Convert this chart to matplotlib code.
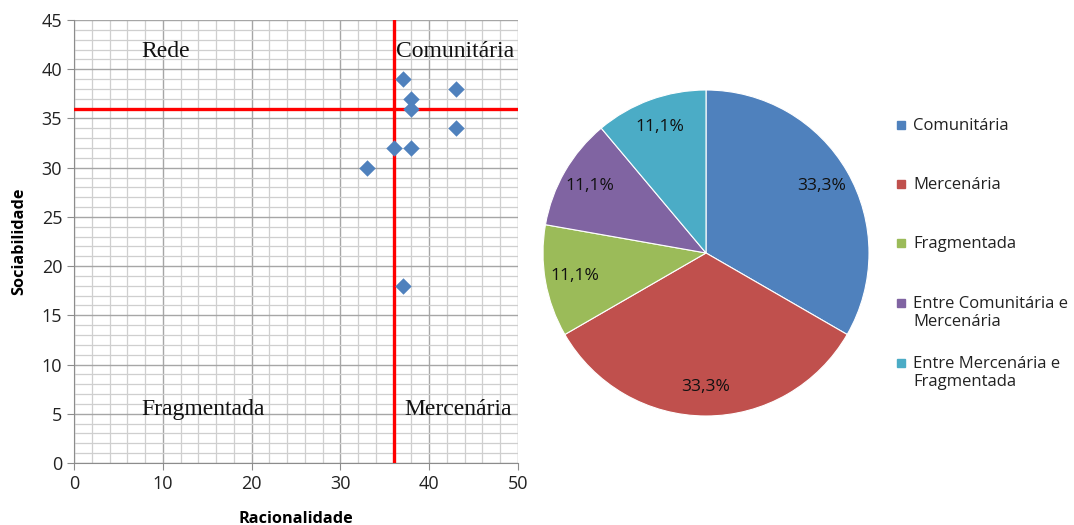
import numpy as np
import matplotlib.pyplot as plt
from matplotlib.patches import Rectangle

# Scatter data
racionalidade = [37, 43, 38, 38, 43, 36, 38, 33, 37]
sociabilidade = [39, 38, 37, 36, 34, 32, 32, 30, 18]
corte_x = 36
corte_y = 36
quadrantes = ["Rede", "Comunitária", "Fragmentada", "Mercenária"]
quad_pos = [(10.3, 41.8), (42.9, 41.8), (14.5, 5.4), (43.2, 5.4)]

# Pie data
categorias = ["Comunitária", "Mercenária", "Fragmentada",
              "Entre Comunitária e\nMercenária", "Entre Mercenária e\nFragmentada"]
contagens = [3, 3, 1, 1, 1]
cores = ["#4F81BD", "#C0504D", "#9BBB59", "#8064A2", "#4BACC6"]

W, H = 1074, 525
fig = plt.figure(figsize=(W / 100, H / 100), dpi=100)
sans = ["Open Sans", "DejaVu Sans"]

# --- scatter ---
ax = fig.add_axes([74 / W, 1 - 463 / H, 444 / W, 443 / H])
ax.set_xlim(0, 50)
ax.set_ylim(0, 45)
ax.set_xticks(np.arange(0, 51, 10))
ax.set_yticks(np.arange(0, 46, 5))
ax.set_xticks(np.arange(0, 51, 2), minor=True)
ax.set_yticks(np.arange(0, 46, 1), minor=True)
ax.grid(which="minor", color="#CFCFCF", lw=0.9)
ax.grid(which="major", color="#A6A6A6", lw=1.0)
ax.set_axisbelow(True)
for s in ["top", "right"]:
    ax.spines[s].set_visible(False)
for s in ["left", "bottom"]:
    ax.spines[s].set_color("#8C8C8C")
ax.tick_params(which="major", direction="out", length=5, color="#8C8C8C",
               labelsize=13, labelcolor="#222222")
ax.tick_params(which="minor", length=0)
for lab in ax.get_xticklabels() + ax.get_yticklabels():
    lab.set_family(sans)

ax.axvline(corte_x, color="#FF0000", lw=2.4, zorder=3)
ax.axhline(corte_y, color="#FF0000", lw=2.4, zorder=3)
ax.scatter(racionalidade, sociabilidade, marker="D", s=70, color="#4F81BD",
           zorder=4, linewidths=0)

for txt, (qx, qy) in zip(quadrantes, quad_pos):
    ax.text(qx, qy, txt, ha="center", va="center", fontsize=17,
            family="Liberation Serif", color="#111111", zorder=5)

ax.set_xlabel("Racionalidade", fontsize=11.7, fontweight="bold", family=sans,
              labelpad=13)
ax.set_ylabel("Sociabilidade", fontsize=11.7, fontweight="bold", family=sans,
              labelpad=10)

# --- pie ---
r = 163
pax = fig.add_axes([(706 - r) / W, 1 - (253 + r) / H, 2 * r / W, 2 * r / H])
wedges, _, autotexts = pax.pie(
    contagens, colors=cores, startangle=90, counterclock=False,
    autopct=lambda p: f"{p:.1f}%".replace(".", ","), pctdistance=0.82,
    wedgeprops=dict(edgecolor="white", linewidth=0.8),
    textprops=dict(fontsize=12.5, family=sans, color="#111111"))
pax.set_xlim(-1, 1)
pax.set_ylim(-1, 1)

# --- legend ---
leg_y = [125, 184, 243, 303, 363]
for cor, nome, y in zip(cores, categorias, leg_y):
    fig.patches.append(Rectangle((897 / W, 1 - (y + 4) / H), 8 / W, 8 / H,
                                 transform=fig.transFigure, color=cor))
    fig.text(913 / W, 1 - (y - 7) / H, nome, ha="left", va="top",
             fontsize=12, family=sans, color="#222222", linespacing=1.2)

fig.savefig("out.png", dpi=100)
